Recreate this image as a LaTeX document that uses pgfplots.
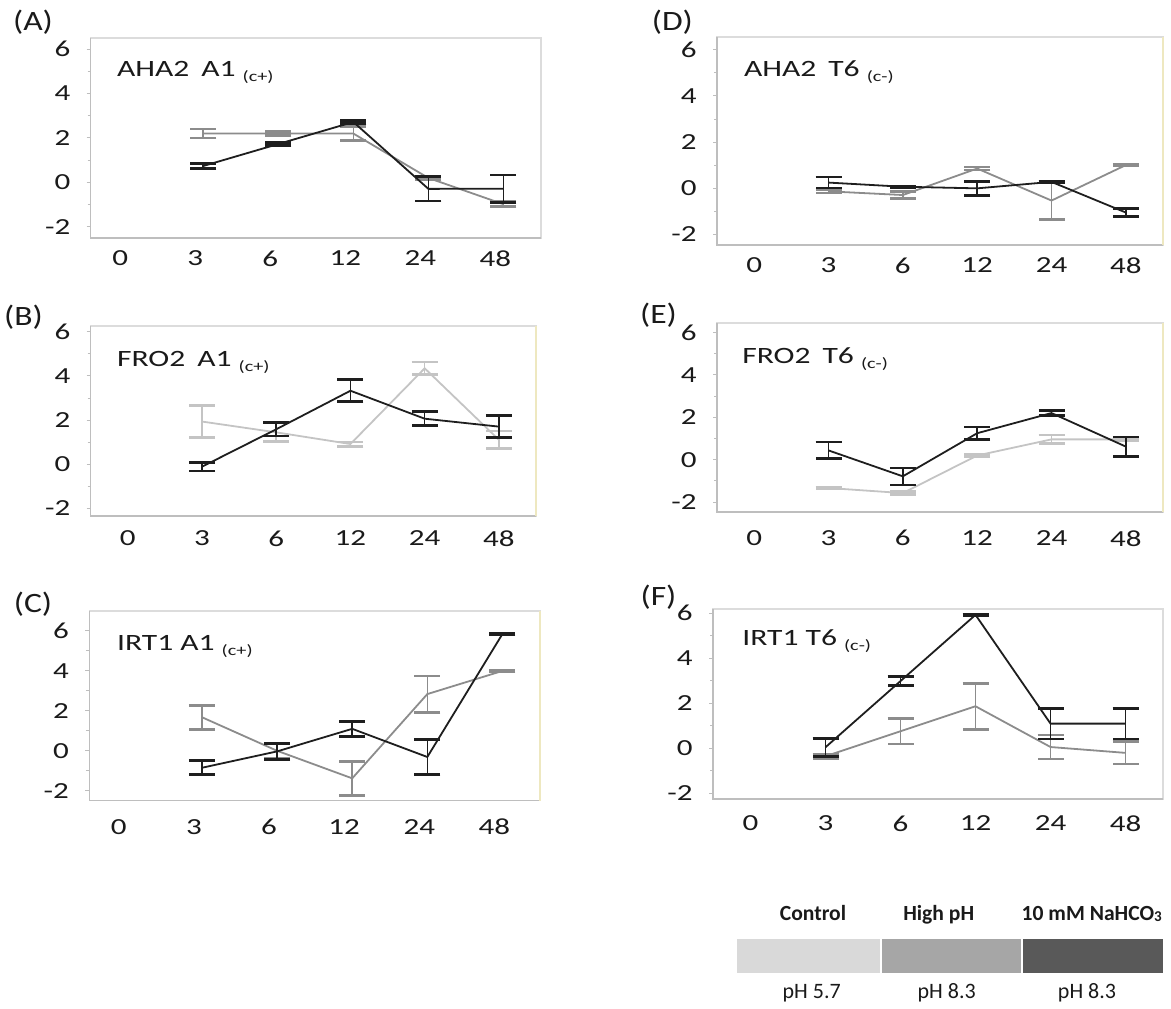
\documentclass[border=0pt]{standalone}
\usepackage{pgfplots}
\pgfplotsset{compat=1.18}
\usepackage{fontspec}
\setmainfont{Carlito}
\newfontfamily\wide{Carlito}[FakeStretch=1.35]
\newfontfamily\widel{Carlito}[FakeStretch=1.2]

\definecolor{ctrl}{HTML}{C4C4C4}
\definecolor{highph}{HTML}{8C8C8C}
\definecolor{bicarb}{HTML}{1E1E1E}
\definecolor{frame}{HTML}{DCDCDC}
\definecolor{axisgray}{HTML}{BEBEBE}
\definecolor{edge}{HTML}{EEE8C0}
\definecolor{ink}{HTML}{1A1A1A}
\definecolor{swctrl}{HTML}{D9D9D9}
\definecolor{swhigh}{HTML}{A6A6A6}
\definecolor{swbic}{HTML}{595959}

\pgfplotsset{
  panel/.style={
    scale only axis,
    anchor=north west,
    xmin=-0.5, xmax=5.5,
    xtick={0,...,5}, xticklabels={0,3,6,12,24,48},
    ytick={-2,0,2,4,6}, yticklabels={-2,0,2,4,6},
    minor ytick={-1,1,3,5},
    tick pos=left,
    tick align=outside,
    major tick length=2pt, minor tick length=1.5pt,
    x tick style={draw=none},
    y tick style={axisgray, line width=0.5pt},
    axis line style={frame, line width=0.6pt},
    tick label style={font=\wide\fontsize{11.5}{13}\selectfont, text=ink},
    yticklabel style={anchor=east, inner sep=0pt},
    xticklabel style={anchor=north, inner sep=0pt},
    yticklabel shift=8pt,
    clip=false,
  },
  ser/.style={no markers, line width=0.9pt, color=#1,
    error bars/.cd, y dir=both, y explicit,
    error bar style={line width=0.8pt, color=#1},
    error mark options={rotate=90, line width=1.3pt, mark size=6.5pt, color=#1}},
}
% left and bottom axis lines drawn a little darker than the plot-area frame
\newcommand{\axeslines}{%
  \draw[axisgray, line width=0.6pt] (rel axis cs:0,1) -- (rel axis cs:0,0) -- (rel axis cs:1,0);}
\newcommand{\yellowedge}{%
  \draw[edge, line width=1.2pt] (rel axis cs:1,0) -- (rel axis cs:1,1);}

\begin{document}
\begin{tikzpicture}
\path[use as bounding box] (0,0) rectangle (585.5pt,-504pt);

% (A) AHA2 A1
\begin{axis}[panel, at={(45.35pt,-19pt)}, width=225.15pt, height=100pt,
  ymin=-2.5, ymax=6.5, xticklabel style={xshift=-4pt}, xticklabel shift=4.2pt]
\axeslines
\addplot[ser=highph] table[x=t, y=m, y error=e] {
t m e
1 2.2 0.2
2 2.2 0.1
3 2.2 0.32
4 0.2 0.08
5 -0.98 0.11
};
\addplot[ser=bicarb] table[x=t, y=m, y error=e] {
t m e
1 0.74 0.11
2 1.73 0.06
3 2.72 0.06
4 -0.29 0.55
5 -0.28 0.62
};
\end{axis}

% (B) FRO2 A1
\begin{axis}[panel, at={(45.35pt,-163pt)}, width=222.65pt, height=95pt,
  ymin=-2.36, ymax=6.27, xticklabel shift=5.2pt]
\axeslines
\yellowedge
\addplot[ser=ctrl] table[x=t, y=m, y error=e] {
t m e
1 1.93 0.73
2 1.44 0.42
3 0.91 0.1
4 4.35 0.29
5 1.1 0.4
};
\addplot[ser=bicarb] table[x=t, y=m, y error=e] {
t m e
1 -0.12 0.2
2 1.58 0.31
3 3.33 0.5
4 2.06 0.32
5 1.7 0.5
};
\end{axis}

% (C) IRT1 A1
\begin{axis}[panel, at={(44.65pt,-305.5pt)}, width=225.35pt, height=94.85pt,
  ymin=-2.5, ymax=7, xticklabel style={xshift=-4pt}, xticklabel shift=7pt]
\axeslines
\yellowedge
\addplot[ser=highph] table[x=t, y=m, y error=e] {
t m e
1 1.68 0.6
2 0.0 0.38
3 -1.38 0.85
4 2.84 0.91
5 4.0 0.03
};
\addplot[ser=bicarb] table[x=t, y=m, y error=e] {
t m e
1 -0.85 0.35
2 -0.03 0.4
3 1.1 0.37
4 -0.31 0.89
5 5.85 0.02
};
\end{axis}

% (D) AHA2 T6
\begin{axis}[panel, at={(358.5pt,-18.5pt)}, width=223pt, height=104pt,
  ymin=-2.47, ymax=6.56, xticklabel shift=4.2pt]
\axeslines
\yellowedge
\addplot[ser=highph] table[x=t, y=m, y error=e] {
t m e
1 -0.14 0.07
2 -0.3 0.15
3 0.85 0.06
4 -0.54 0.82
5 1.0 0.03
};
\addplot[ser=bicarb] table[x=t, y=m, y error=e] {
t m e
1 0.24 0.24
2 0.06 0.04
3 -0.01 0.31
4 0.27 0.03
5 -1.06 0.18
};
\end{axis}

% (E) FRO2 T6
\begin{axis}[panel, at={(358.5pt,-161.5pt)}, width=223pt, height=94.5pt,
  ymin=-2.46, ymax=6.44, xticklabel shift=7pt]
\axeslines
\yellowedge
\addplot[ser=ctrl] table[x=t, y=m, y error=e] {
t m e
1 -1.33 0.03
2 -1.57 0.07
3 0.2 0.05
4 0.96 0.2
5 0.96 0.06
};
\addplot[ser=bicarb] table[x=t, y=m, y error=e] {
t m e
1 0.44 0.39
2 -0.78 0.4
3 1.25 0.29
4 2.2 0.11
5 0.62 0.46
};
\end{axis}

% (F) IRT1 T6
\begin{axis}[panel, at={(356.5pt,-304.5pt)}, width=225pt, height=95pt,
  ymin=-2.25, ymax=6.19, xticklabel shift=6.2pt]
\axeslines
\addplot[ser=highph] table[x=t, y=m, y error=e] {
t m e
1 -0.35 0.1
2 0.76 0.56
3 1.87 1.02
4 0.06 0.53
5 -0.2 0.5
};
\addplot[ser=bicarb] table[x=t, y=m, y error=e] {
t m e
1 0.05 0.4
2 2.99 0.2
3 5.93 0.02
4 1.1 0.68
5 1.1 0.68
};
\end{axis}

\begin{scope}[x=0.5pt, y=-0.5pt, text=ink]
  % panel letters
  \tikzset{letter/.style={font=\widel\fontsize{14}{16}\selectfont, inner sep=0pt}}
  \node[letter] at (33,21.7) {(A)};
  \node[letter] at (23.5,316.7) {(B)};
  \node[letter] at (33,604) {(C)};
  \node[letter] at (672.4,22.5) {(D)};
  \node[letter] at (658.5,315) {(E)};
  \node[letter] at (658.5,596.7) {(F)};
  % gene / line labels
  \tikzset{gene/.style={anchor=base west, inner sep=0pt, font=\wide\fontsize{11.7}{14}\selectfont}}
  \newcommand{\sub}[1]{\hspace{3.5pt}\raisebox{-2.5pt}{\fontsize{7.5}{8}\selectfont #1}}
  \node[gene] at (116.7,76.7) {AHA2\hspace{6pt}A1\sub{(c+)}};
  \node[gene] at (116.7,366.7) {FRO2\hspace{6pt}A1\sub{(c+)}};
  \node[gene] at (116.7,650.5) {IRT1 A1\sub{(c+)}};
  \node[gene] at (743.7,76.7) {AHA2\hspace{6pt}T6\sub{(c-)}};
  \node[gene] at (741.9,363.3) {FRO2\hspace{6pt}T6\sub{(c-)}};
  \node[gene] at (741.9,645) {IRT1 T6\sub{(c-)}};
  % treatment key
  \fill[swctrl] (737,939) rectangle (881,973);
  \fill[swhigh] (881,939) rectangle (1022,973);
  \fill[swbic] (1022,939) rectangle (1163,973);
  \draw[white, line width=0.6pt] (881,939) -- (881,973) (1022,939) -- (1022,973);
  \tikzset{keyhead/.style={anchor=base, inner sep=0pt, font=\bfseries\fontsize{10.8}{12}\selectfont},
           keyfoot/.style={anchor=base, inner sep=0pt, font=\fontsize{11}{12}\selectfont}}
  \node[keyhead] at (813,920.7) {Control};
  \node[keyhead] at (938.7,920.7) {High pH};
  \node[keyhead] at (1091.7,920.7) {10 mM NaHCO\raisebox{-0.6pt}{\fontsize{7.5}{8}\selectfont 3}};
  \node[keyfoot] at (811.7,998.3) {pH 5.7};
  \node[keyfoot] at (946.7,998.3) {pH 8.3};
  \node[keyfoot] at (1087,998.3) {pH 8.3};
\end{scope}
\end{tikzpicture}
\end{document}
